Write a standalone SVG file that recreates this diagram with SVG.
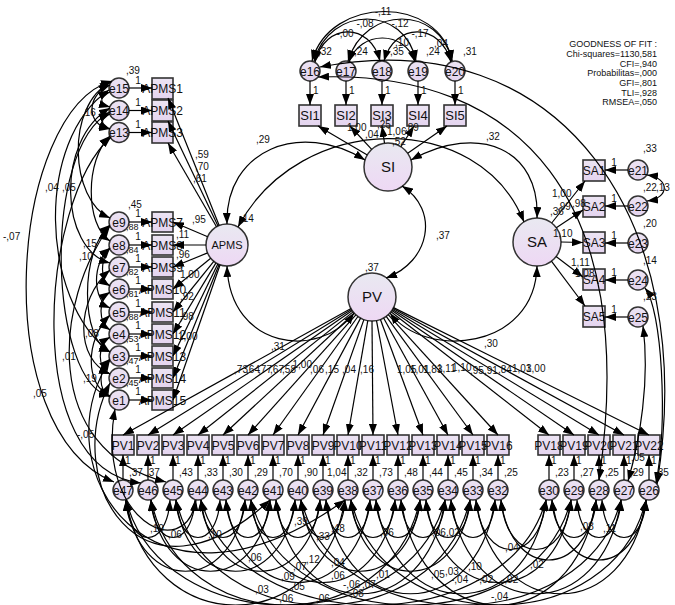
<svg xmlns="http://www.w3.org/2000/svg" width="675" height="605" viewBox="0 0 675 605">
<defs>
<linearGradient id="gl" x1="0" y1="0" x2="0" y2="1"><stop offset="0" stop-color="#e9e9f1"/><stop offset="1" stop-color="#eed8f4"/></linearGradient>
<linearGradient id="gs" x1="0" y1="0" x2="0" y2="1"><stop offset="0" stop-color="#ece4f3"/><stop offset="1" stop-color="#e4d4ef"/></linearGradient>
<marker id="ah" viewBox="0 0 11 8" refX="11" refY="4" markerWidth="11" markerHeight="8" markerUnits="userSpaceOnUse" orient="auto-start-reverse"><path d="M0,0 L11,4 L0,8 z" fill="#000"/></marker>
<style>
.lat{fill:url(#gl);stroke:#333;stroke-width:1.5}
.obs{fill:url(#gs);stroke:#333;stroke-width:1.6}
.err{fill:url(#gs);stroke:#333;stroke-width:1.5}
.p{fill:none;stroke:#000;stroke-width:1.2;marker-end:url(#ah)}
.cv{fill:none;stroke:#000;stroke-width:1.2;marker-start:url(#ah);marker-end:url(#ah)}
text{font-family:"Liberation Sans",Arial,sans-serif;fill:#111}
.lt{font-size:15px;text-anchor:middle}
.bt{font-size:12px;text-anchor:middle}
.st{font-size:13px;text-anchor:middle}
.et{font-size:12px;text-anchor:middle}
.l{font-size:10px}
.m{text-anchor:middle}
.e{text-anchor:end}
.s9{font-size:9px}
.gof{font-size:9px;text-anchor:end}
</style>
</defs>

<!-- latent nodes -->
<g id="SI"><circle class="lat" cx="388" cy="167" r="24"/><text class="lt" x="388" y="172">SI</text></g>
<g id="APMS"><circle class="lat" cx="227" cy="245" r="21"/><text x="227" y="249" style="font-size:11px;text-anchor:middle">APMS</text></g>
<g id="SA"><circle class="lat" cx="537" cy="242" r="24"/><text class="lt" x="537" y="247">SA</text></g>
<g id="PV"><circle class="lat" cx="372" cy="297" r="24"/><text class="lt" x="372" y="302">PV</text></g>

<!-- SI indicators -->
<g id="SI1"><rect class="obs" x="299" y="105" width="22" height="21"/><text class="st" x="310" y="120">SI1</text></g>
<g id="SI2"><rect class="obs" x="335" y="105" width="22" height="21"/><text class="st" x="346" y="120">SI2</text></g>
<g id="SI3"><rect class="obs" x="371" y="105" width="22" height="21"/><text class="st" x="382" y="120">SI3</text></g>
<g id="SI4"><rect class="obs" x="407" y="105" width="22" height="21"/><text class="st" x="418" y="120">SI4</text></g>
<g id="SI5"><rect class="obs" x="444" y="105" width="22" height="21"/><text class="st" x="455" y="120">SI5</text></g>
<g id="e16"><circle class="err" cx="310" cy="71" r="10"/><text class="et" x="310" y="75.5">e16</text></g>
<g id="e17"><circle class="err" cx="346" cy="71" r="10"/><text class="et" x="346" y="75.5">e17</text></g>
<g id="e18"><circle class="err" cx="382" cy="71" r="10"/><text class="et" x="382" y="75.5">e18</text></g>
<g id="e19"><circle class="err" cx="418" cy="71" r="10"/><text class="et" x="418" y="75.5">e19</text></g>
<g id="e20"><circle class="err" cx="455" cy="71" r="10"/><text class="et" x="455" y="75.5">e20</text></g>

<!-- APMS indicators -->
<g id="APMS1"><rect class="obs" x="152" y="78" width="21" height="21"/><text class="bt" x="162.5" y="93">APMS1</text></g>
<g id="APMS2"><rect class="obs" x="152" y="100" width="21" height="21"/><text class="bt" x="162.5" y="115">APMS2</text></g>
<g id="APMS3"><rect class="obs" x="152" y="122" width="21" height="21"/><text class="bt" x="162.5" y="137">APMS3</text></g>
<g id="APMS7"><rect class="obs" x="152" y="212" width="21" height="20"/><text class="bt" x="162.5" y="226.5">APMS7</text></g>
<g id="APMS8"><rect class="obs" x="152" y="235" width="21" height="20"/><text class="bt" x="162.5" y="249.5">APMS8</text></g>
<g id="APMS9"><rect class="obs" x="152" y="257" width="21" height="20"/><text class="bt" x="162.5" y="271.5">APMS9</text></g>
<g id="APMS10"><rect class="obs" x="152" y="279" width="21" height="20"/><text class="bt" x="162.5" y="293.5">APMS10</text></g>
<g id="APMS11"><rect class="obs" x="152" y="302" width="21" height="20"/><text class="bt" x="162.5" y="316.5">APMS11</text></g>
<g id="APMS12"><rect class="obs" x="152" y="324" width="21" height="20"/><text class="bt" x="162.5" y="338.5">APMS12</text></g>
<g id="APMS13"><rect class="obs" x="152" y="346" width="21" height="20"/><text class="bt" x="162.5" y="360.5">APMS13</text></g>
<g id="APMS14"><rect class="obs" x="152" y="368" width="21" height="20"/><text class="bt" x="162.5" y="382.5">APMS14</text></g>
<g id="APMS15"><rect class="obs" x="152" y="390" width="21" height="20"/><text class="bt" x="162.5" y="404.5">APMS15</text></g>
<g id="e15"><circle class="err" cx="119" cy="88" r="10"/><text class="et" x="119" y="92.5">e15</text></g>
<g id="e14"><circle class="err" cx="119" cy="110.5" r="10"/><text class="et" x="119" y="115">e14</text></g>
<g id="e13"><circle class="err" cx="119" cy="132.5" r="10"/><text class="et" x="119" y="137">e13</text></g>
<g id="e9"><circle class="err" cx="119" cy="222" r="10"/><text class="et" x="119" y="226.5">e9</text></g>
<g id="e8"><circle class="err" cx="119" cy="245" r="10"/><text class="et" x="119" y="249.5">e8</text></g>
<g id="e7"><circle class="err" cx="119" cy="267" r="10"/><text class="et" x="119" y="271.5">e7</text></g>
<g id="e6"><circle class="err" cx="119" cy="289" r="10"/><text class="et" x="119" y="293.5">e6</text></g>
<g id="e5"><circle class="err" cx="119" cy="312" r="10"/><text class="et" x="119" y="316.5">e5</text></g>
<g id="e4"><circle class="err" cx="119" cy="334" r="10"/><text class="et" x="119" y="338.5">e4</text></g>
<g id="e3"><circle class="err" cx="119" cy="356" r="10"/><text class="et" x="119" y="360.5">e3</text></g>
<g id="e2"><circle class="err" cx="119" cy="378" r="10"/><text class="et" x="119" y="382.5">e2</text></g>
<g id="e1"><circle class="err" cx="119" cy="400" r="10"/><text class="et" x="119" y="404.5">e1</text></g>

<!-- SA indicators -->
<g id="SA1"><rect class="obs" x="583" y="160" width="22" height="21"/><text class="bt" x="594" y="175">SA1</text></g>
<g id="SA2"><rect class="obs" x="583" y="196" width="22" height="21"/><text class="bt" x="594" y="211">SA2</text></g>
<g id="SA3"><rect class="obs" x="583" y="232" width="22" height="21"/><text class="bt" x="594" y="247">SA3</text></g>
<g id="SA4"><rect class="obs" x="583" y="269" width="22" height="21"/><text class="bt" x="594" y="284">SA4</text></g>
<g id="SA5"><rect class="obs" x="583" y="306" width="22" height="21"/><text class="bt" x="594" y="321">SA5</text></g>
<g id="e21"><circle class="err" cx="638" cy="170" r="10"/><text class="et" x="638" y="174.5">e21</text></g>
<g id="e22"><circle class="err" cx="638" cy="206" r="10"/><text class="et" x="638" y="210.5">e22</text></g>
<g id="e23"><circle class="err" cx="638" cy="243" r="10"/><text class="et" x="638" y="247.5">e23</text></g>
<g id="e24"><circle class="err" cx="638" cy="280" r="10"/><text class="et" x="638" y="284.5">e24</text></g>
<g id="e25"><circle class="err" cx="638" cy="317" r="10"/><text class="et" x="638" y="321.5">e25</text></g>

<!-- PV indicators -->
<g id="PV1"><rect class="obs" x="112" y="435" width="22" height="20"/><text class="bt" x="123" y="449.5">PV1</text></g>
<g id="PV2"><rect class="obs" x="137" y="435" width="22" height="20"/><text class="bt" x="148" y="449.5">PV2</text></g>
<g id="PV3"><rect class="obs" x="162" y="435" width="22" height="20"/><text class="bt" x="173" y="449.5">PV3</text></g>
<g id="PV4"><rect class="obs" x="187" y="435" width="22" height="20"/><text class="bt" x="198" y="449.5">PV4</text></g>
<g id="PV5"><rect class="obs" x="212" y="435" width="22" height="20"/><text class="bt" x="223" y="449.5">PV5</text></g>
<g id="PV6"><rect class="obs" x="237" y="435" width="22" height="20"/><text class="bt" x="248" y="449.5">PV6</text></g>
<g id="PV7"><rect class="obs" x="262" y="435" width="22" height="20"/><text class="bt" x="273" y="449.5">PV7</text></g>
<g id="PV8"><rect class="obs" x="287" y="435" width="22" height="20"/><text class="bt" x="298" y="449.5">PV8</text></g>
<g id="PV9"><rect class="obs" x="312" y="435" width="22" height="20"/><text class="bt" x="323" y="449.5">PV9</text></g>
<g id="PV10"><rect class="obs" x="337" y="435" width="22" height="20"/><text class="bt" x="348" y="449.5">PV10</text></g>
<g id="PV11"><rect class="obs" x="362" y="435" width="22" height="20"/><text class="bt" x="373" y="449.5">PV11</text></g>
<g id="PV12"><rect class="obs" x="387" y="435" width="22" height="20"/><text class="bt" x="398" y="449.5">PV12</text></g>
<g id="PV13"><rect class="obs" x="412" y="435" width="22" height="20"/><text class="bt" x="423" y="449.5">PV13</text></g>
<g id="PV14"><rect class="obs" x="437" y="435" width="22" height="20"/><text class="bt" x="448" y="449.5">PV14</text></g>
<g id="PV15"><rect class="obs" x="462" y="435" width="22" height="20"/><text class="bt" x="473" y="449.5">PV15</text></g>
<g id="PV16"><rect class="obs" x="487" y="435" width="22" height="20"/><text class="bt" x="498" y="449.5">PV16</text></g>
<g id="PV18"><rect class="obs" x="538" y="435" width="22" height="20"/><text class="bt" x="549" y="449.5">PV18</text></g>
<g id="PV19"><rect class="obs" x="563" y="435" width="22" height="20"/><text class="bt" x="574" y="449.5">PV19</text></g>
<g id="PV20"><rect class="obs" x="588" y="435" width="22" height="20"/><text class="bt" x="599" y="449.5">PV20</text></g>
<g id="PV21"><rect class="obs" x="613" y="435" width="22" height="20"/><text class="bt" x="624" y="449.5">PV21</text></g>
<g id="PV22"><rect class="obs" x="638" y="435" width="22" height="20"/><text class="bt" x="649" y="449.5">PV22</text></g>
<g id="e47"><circle class="err" cx="123" cy="490" r="10"/><text class="et" x="123" y="494.5">e47</text></g>
<g id="e46"><circle class="err" cx="148" cy="490" r="10"/><text class="et" x="148" y="494.5">e46</text></g>
<g id="e45"><circle class="err" cx="173" cy="490" r="10"/><text class="et" x="173" y="494.5">e45</text></g>
<g id="e44"><circle class="err" cx="198" cy="490" r="10"/><text class="et" x="198" y="494.5">e44</text></g>
<g id="e43"><circle class="err" cx="223" cy="490" r="10"/><text class="et" x="223" y="494.5">e43</text></g>
<g id="e42"><circle class="err" cx="248" cy="490" r="10"/><text class="et" x="248" y="494.5">e42</text></g>
<g id="e41"><circle class="err" cx="273" cy="490" r="10"/><text class="et" x="273" y="494.5">e41</text></g>
<g id="e40"><circle class="err" cx="298" cy="490" r="10"/><text class="et" x="298" y="494.5">e40</text></g>
<g id="e39"><circle class="err" cx="323" cy="490" r="10"/><text class="et" x="323" y="494.5">e39</text></g>
<g id="e38"><circle class="err" cx="348" cy="490" r="10"/><text class="et" x="348" y="494.5">e38</text></g>
<g id="e37"><circle class="err" cx="373" cy="490" r="10"/><text class="et" x="373" y="494.5">e37</text></g>
<g id="e36"><circle class="err" cx="398" cy="490" r="10"/><text class="et" x="398" y="494.5">e36</text></g>
<g id="e35"><circle class="err" cx="423" cy="490" r="10"/><text class="et" x="423" y="494.5">e35</text></g>
<g id="e34"><circle class="err" cx="448" cy="490" r="10"/><text class="et" x="448" y="494.5">e34</text></g>
<g id="e33"><circle class="err" cx="473" cy="490" r="10"/><text class="et" x="473" y="494.5">e33</text></g>
<g id="e32"><circle class="err" cx="498" cy="490" r="10"/><text class="et" x="498" y="494.5">e32</text></g>
<g id="e30"><circle class="err" cx="549" cy="490" r="10"/><text class="et" x="549" y="494.5">e30</text></g>
<g id="e29"><circle class="err" cx="574" cy="490" r="10"/><text class="et" x="574" y="494.5">e29</text></g>
<g id="e28"><circle class="err" cx="599" cy="490" r="10"/><text class="et" x="599" y="494.5">e28</text></g>
<g id="e27"><circle class="err" cx="624" cy="490" r="10"/><text class="et" x="624" y="494.5">e27</text></g>
<g id="e26"><circle class="err" cx="649" cy="490" r="10"/><text class="et" x="649" y="494.5">e26</text></g>

<g id="connectors">
<!-- SI measurement -->
<path class="p" d="M310,81 L310,105"/><path class="p" d="M346,81 L346,105"/><path class="p" d="M382,81 L382,105"/><path class="p" d="M418,81 L418,105"/><path class="p" d="M455,81 L455,105"/>
<path class="p" d="M367.3,154.9 L318,126"/><path class="p" d="M371.7,149.4 L350,126"/><path class="p" d="M384.5,143.2 L382,126"/><path class="p" d="M400.9,146.7 L414,126"/><path class="p" d="M407.7,153.3 L447,126"/>
<!-- top covariances -->
<path class="cv" d="M312,61 C330,-5 440,-5 452,61"/>
<path class="cv" d="M314,61 C330,5 405,5 416,61"/>
<path class="cv" d="M348,61 C365,5 440,5 452,61"/>
<path class="cv" d="M315,62 C325,22 370,22 380,61"/>
<path class="cv" d="M384,61 C395,22 440,22 451,62"/>
<path class="cv" d="M349,62 C360,30 405,30 415,62"/>
<path class="cv" d="M320,67 C560,20 700,220 657,484"/>
<path class="cv" d="M318,77 C520,70 640,200 599,480"/>
<!-- structural covariances -->
<path class="cv" d="M227,224 C225,150 300,120 365,160"/>
<path class="cv" d="M238,227 C300,110 480,110 524,222"/>
<path class="cv" d="M411,160 C480,122 540,150 537,218"/>
<path class="cv" d="M227,266 C230,350 320,360 354,313"/>
<path class="cv" d="M537,266 C535,350 425,360 390,313"/>
<path class="cv" d="M402,186 C440,210 430,262 386,278"/>
<!-- APMS measurement -->
<path class="p" d="M219.2,225.5 L168,98"/><path class="p" d="M218,226 L168,121"/><path class="p" d="M216.5,226.8 L168,143"/>
<path class="p" d="M207.7,236.8 L173,222"/><path class="p" d="M206,245 L173,245"/><path class="p" d="M207.6,252.9 L173,267"/><path class="p" d="M210.7,258.3 L173,289"/><path class="p" d="M213.8,261.4 L173,312"/><path class="p" d="M216,262.9 L173,334"/><path class="p" d="M217.8,263.9 L173,356"/><path class="p" d="M219.1,264.5 L173,378"/><path class="p" d="M220.1,264.8 L173,400"/>
<path class="p" d="M129,88 L152,88"/><path class="p" d="M129,110.5 L152,110.5"/><path class="p" d="M129,132.5 L152,132.5"/>
<path class="p" d="M129,222 L152,222"/><path class="p" d="M129,245 L152,245"/><path class="p" d="M129,267 L152,267"/><path class="p" d="M129,289 L152,289"/><path class="p" d="M129,312 L152,312"/><path class="p" d="M129,334 L152,334"/><path class="p" d="M129,356 L152,356"/><path class="p" d="M129,378 L152,378"/><path class="p" d="M129,400 L152,400"/>
<!-- left covariances -->
<path class="cv" d="M110,92 C99,96 99,104 110,107"/>
<path class="cv" d="M110,85 C86,95 86,125 110,129"/>
<path class="cv" d="M110,114 C100,118 100,125 110,129"/>
<path class="cv" d="M111,82 C65,105 70,200 110,218"/>
<path class="cv" d="M110,108 C55,140 60,250 110,263"/>
<path class="cv" d="M110,136 C85,160 85,225 110,241"/>
<path class="cv" d="M112,81 C10,110 -15,430 114,482"/>
<path class="cv" d="M110,112 C40,150 50,385 110,396"/>
<path class="cv" d="M111,137 C40,200 20,470 141,483"/>
<path class="cv" d="M110,225 C80,250 80,340 110,352"/>
<path class="cv" d="M110,248 C92,262 92,300 110,308"/>
<path class="cv" d="M110,270 C75,300 75,360 110,374"/>
<path class="cv" d="M110,292 C98,300 98,322 110,330"/>
<path class="cv" d="M110,315 C85,340 85,385 110,396"/>
<path class="cv" d="M110,337 C97,345 97,368 110,374"/>
<path class="cv" d="M110,359 C98,370 98,390 110,397"/>
<path class="cv" d="M110,226 C55,300 40,450 166,482"/>
<path class="cv" d="M109,90 C35,140 40,300 110,352"/>
<path class="cv" d="M110,248 C100,260 100,280 110,286"/>
<path class="cv" d="M115,409 C95,520 185,565 196,500"/>
<path class="cv" d="M110,383 C60,480 140,620 270,500"/>
<path class="cv" d="M110,360 C40,470 150,640 345,500"/>
<!-- SA measurement -->
<path class="p" d="M551.7,223 L585,181"/><path class="p" d="M556.3,227.7 L583,210"/><path class="p" d="M561,242 L583,242.5"/><path class="p" d="M556.1,256.5 L583,277"/><path class="p" d="M551.4,261.2 L585,306"/>
<path class="p" d="M628,170 L605,170"/><path class="p" d="M628,206 L605,206"/><path class="p" d="M628,243 L605,243"/><path class="p" d="M628,280 L605,280"/><path class="p" d="M628,317 L605,317"/>
<path class="cv" d="M647,175 C670,178 670,198 647,201"/>
<path class="cv" d="M645,288 C662,310 668,420 656,483"/>
<path class="cv" d="M643,326 C650,380 640,440 628,481"/>
<!-- PV measurement -->
<path class="p" d="M351,308.6 L123,435"/><path class="p" d="M351.5,309.5 L148,435"/><path class="p" d="M352.2,310.6 L173,435"/><path class="p" d="M353.1,311.9 L198,435"/><path class="p" d="M354.3,313.2 L223,435"/><path class="p" d="M355.9,314.8 L248,435"/><path class="p" d="M357.9,316.5 L273,435"/><path class="p" d="M360.6,318.1 L298,435"/><path class="p" d="M363.9,319.6 L323,435"/><path class="p" d="M367.8,320.6 L348,435"/><path class="p" d="M372,321 L373,435"/><path class="p" d="M376.5,320.6 L398,435"/><path class="p" d="M380.4,319.5 L423,435"/><path class="p" d="M383.6,318 L448,435"/><path class="p" d="M386.2,316.3 L473,435"/><path class="p" d="M388.2,314.7 L498,435"/><path class="p" d="M391,311.7 L549,435"/><path class="p" d="M391.9,310.5 L574,435"/><path class="p" d="M392.5,309.4 L599,435"/><path class="p" d="M393.1,308.5 L624,435"/><path class="p" d="M393.5,307.6 L649,435"/>
<path class="p" d="M123,480 L123,455"/><path class="p" d="M148,480 L148,455"/><path class="p" d="M173,480 L173,455"/><path class="p" d="M198,480 L198,455"/><path class="p" d="M223,480 L223,455"/><path class="p" d="M248,480 L248,455"/><path class="p" d="M273,480 L273,455"/><path class="p" d="M298,480 L298,455"/><path class="p" d="M323,480 L323,455"/><path class="p" d="M348,480 L348,455"/><path class="p" d="M373,480 L373,455"/><path class="p" d="M398,480 L398,455"/><path class="p" d="M423,480 L423,455"/><path class="p" d="M448,480 L448,455"/><path class="p" d="M473,480 L473,455"/><path class="p" d="M498,480 L498,455"/><path class="p" d="M549,480 L549,455"/><path class="p" d="M574,480 L574,455"/><path class="p" d="M599,480 L599,455"/><path class="p" d="M624,480 L624,455"/><path class="p" d="M649,480 L649,455"/>
<!-- bottom covariances -->
<path class="cv" d="M126,500 C129,550 167,550 170,500"/>
<path class="cv" d="M126,500 C138,595 233,595 245,500"/>
<path class="cv" d="M126,500 C150,640 321,640 345,500"/>
<path class="cv" d="M126,500 C162,640 409,640 445,500"/>
<path class="cv" d="M151,500 C154,550 192,550 195,500"/>
<path class="cv" d="M151,500 C163,595 258,595 270,500"/>
<path class="cv" d="M151,500 C181,640 390,640 420,500"/>
<path class="cv" d="M176,500 C179,550 217,550 220,500"/>
<path class="cv" d="M176,500 C188,595 283,595 295,500"/>
<path class="cv" d="M176,500 C209,640 437,640 470,500"/>
<path class="cv" d="M201,500 C204,550 242,550 245,500"/>
<path class="cv" d="M201,500 C213,595 308,595 320,500"/>
<path class="cv" d="M201,500 C240,640 507,640 546,500"/>
<path class="cv" d="M226,500 C229,550 267,550 270,500"/>
<path class="cv" d="M226,500 C241,610 355,610 370,500"/>
<path class="cv" d="M251,500 C254,550 292,550 295,500"/>
<path class="cv" d="M251,500 C266,610 380,610 395,500"/>
<path class="cv" d="M251,500 C287,640 535,640 571,500"/>
<path class="cv" d="M276,500 C279,550 317,550 320,500"/>
<path class="cv" d="M276,500 C294,625 427,625 445,500"/>
<path class="cv" d="M301,500 C304,550 342,550 345,500"/>
<path class="cv" d="M301,500 C313,595 408,595 420,500"/>
<path class="cv" d="M301,500 C337,640 585,640 621,500"/>
<path class="cv" d="M326,500 C329,550 367,550 370,500"/>
<path class="cv" d="M326,500 C344,625 477,625 495,500"/>
<path class="cv" d="M351,500 C354,550 392,550 395,500"/>
<path class="cv" d="M351,500 C363,595 458,595 470,500"/>
<path class="cv" d="M351,500 C384,640 613,640 646,500"/>
<path class="cv" d="M376,500 C379,550 417,550 420,500"/>
<path class="cv" d="M376,500 C394,625 528,625 546,500"/>
<path class="cv" d="M401,500 C404,550 442,550 445,500"/>
<path class="cv" d="M401,500 C422,640 575,640 596,500"/>
<path class="cv" d="M426,500 C429,550 467,550 470,500"/>
<path class="cv" d="M426,500 C441,610 556,610 571,500"/>
<path class="cv" d="M451,500 C454,550 492,550 495,500"/>
<path class="cv" d="M451,500 C469,625 603,625 621,500"/>
<path class="cv" d="M476,500 C482,566 540,566 546,500"/>
<path class="cv" d="M476,500 C494,625 628,625 646,500"/>
<path class="cv" d="M501,500 C507,566 565,566 571,500"/>
<path class="cv" d="M501,500 C511,580 586,580 596,500"/>
<path class="cv" d="M552,500 C555,550 593,550 596,500"/>
<path class="cv" d="M552,500 C562,580 636,580 646,500"/>
<path class="cv" d="M577,500 C580,550 618,550 621,500"/>
<path class="cv" d="M602,500 C605,550 643,550 646,500"/>
</g>

<g id="labels" class="l">
<!-- GOF -->
<text class="gof" x="657" y="47">GOODNESS OF FIT :</text>
<text class="gof" x="657" y="57">Chi-squares=1130,581</text>
<text class="gof" x="657" y="66.5">CFI=,940</text>
<text class="gof" x="657" y="76">Probabilitas=,000</text>
<text class="gof" x="657" y="86">GFI=,801</text>
<text class="gof" x="657" y="95.5">TLI=,928</text>
<text class="gof" x="657" y="105">RMSEA=,050</text>
<!-- top -->
<text class="m" x="383" y="15">-,11</text>
<text class="m" x="365" y="27">-,08</text>
<text class="m" x="400" y="27">-,12</text>
<text class="m" x="345" y="37">-,00</text>
<text class="m" x="420" y="37">-,17</text>
<text class="m" x="402" y="46">,10</text>
<text class="m" x="441" y="47">,04</text>
<text x="318" y="55">,32</text><text x="354" y="55">,24</text><text x="390" y="55">,35</text><text x="426" y="55">,24</text><text x="463" y="55">,31</text>
<text x="313" y="94">1</text><text x="349" y="94">1</text><text x="385" y="94">1</text><text x="421" y="94">1</text><text x="458" y="94">1</text>
<text x="347" y="131">1,00</text><text x="365" y="138">,04</text><text x="377" y="128">,25</text><text x="387" y="135">1,06</text><text x="405" y="131">,89</text><text x="392" y="145">,52</text>
<text x="256" y="143">,29</text><text x="486" y="140">,32</text><text x="240" y="222">,14</text>
<text x="436" y="239">,37</text><text x="365" y="271">,37</text>
<text x="271" y="350">,31</text><text x="484" y="347">,30</text>
<!-- APMS -->
<text x="195" y="158">,59</text><text x="195" y="170">,70</text><text x="193" y="182">,61</text>
<text x="192" y="223">,95</text><text x="176" y="238">,11</text><text x="176" y="258">,96</text><text x="180" y="278">1,00</text><text x="180" y="300">,92</text><text x="180" y="320">,98</text><text x="178" y="340">1,00</text>
<text x="126" y="74">,39</text><text x="128" y="208">,45</text>
<text class="m" x="138" y="84">1</text><text class="m" x="138" y="106">1</text><text class="m" x="138" y="128">1</text>
<text class="m" x="138" y="217">1</text><text class="m" x="138" y="240">1</text><text class="m" x="138" y="262">1</text><text class="m" x="138" y="284">1</text><text class="m" x="138" y="307">1</text><text class="m" x="138" y="329">1</text><text class="m" x="138" y="351">1</text><text class="m" x="138" y="373">1</text><text class="m" x="138" y="395">1</text>
<text class="s9" x="126" y="230">,88</text><text class="s9" x="126" y="253">,84</text><text class="s9" x="126" y="275">,82</text><text class="s9" x="126" y="297">,81</text><text class="s9" x="126" y="320">,88</text><text class="s9" x="126" y="342">,53</text><text class="s9" x="126" y="364">,47</text><text class="s9" x="126" y="386">,45</text>
<text x="82" y="116">,16</text><text x="45" y="191">,04</text><text x="62" y="191">,05</text><text x="3" y="240">-,07</text>
<text x="83" y="247">,15</text><text x="79" y="260">,10</text><text x="85" y="337">,08</text><text x="62" y="360">,01</text><text x="83" y="382">,19</text><text x="33" y="397">,05</text><text x="77" y="438">-,05</text>
<!-- SA -->
<text x="552" y="197">1,00</text><text x="550" y="215">,36</text><text x="557" y="210">,99</text><text x="572" y="207">,98</text><text x="553" y="237">1,10</text><text x="571" y="266">1,11</text><text x="575" y="277">1,08</text>
<text class="m" x="614" y="166">1</text><text class="m" x="614" y="202">1</text><text class="m" x="614" y="239">1</text><text class="m" x="614" y="276">1</text><text class="m" x="614" y="313">1</text>
<text x="643" y="152">,33</text><text x="643" y="191">,22</text><text x="656" y="191">,13</text><text x="643" y="227">,20</text><text x="643" y="264">,14</text><text x="643" y="300">,23</text>
<!-- PV loadings -->
<text class="e" x="248" y="373">,73</text><text class="e" x="260" y="373">,64</text><text class="e" x="272" y="373">,77</text><text class="e" x="284" y="373">,67</text><text class="e" x="296" y="373">,58</text><text class="e" x="312" y="368">1,00</text><text class="e" x="324" y="373">,06</text><text class="e" x="339" y="373">,15</text><text class="e" x="356" y="373">,04</text><text class="e" x="374" y="373">,16</text>
<text x="397" y="373">1,05</text><text x="410" y="373">1,01</text><text x="423" y="373">1,83</text><text x="437" y="372">1,11</text><text x="452" y="371">1,10</text><text x="470" y="374">,95</text><text x="484" y="374">,91</text><text x="498" y="373">,84</text><text x="512" y="372">1,03</text><text x="526" y="372">1,00</text>
<!-- bottom "1" and variances -->
<text x="125" y="464">1</text><text x="150" y="464">1</text><text x="175" y="464">1</text><text x="200" y="464">1</text><text x="225" y="464">1</text><text x="250" y="464">1</text><text x="275" y="464">1</text><text x="300" y="464">1</text><text x="325" y="464">1</text><text x="350" y="464">1</text><text x="375" y="464">1</text><text x="400" y="464">1</text><text x="425" y="464">1</text><text x="450" y="464">1</text><text x="475" y="464">1</text><text x="500" y="464">1</text><text x="551" y="464">1</text><text x="576" y="464">1</text><text x="601" y="464">1</text><text x="626" y="464">1</text><text x="651" y="464">1</text>
<text x="129" y="476">,37</text><text x="146" y="476">,37</text><text x="179" y="476">,43</text><text x="204" y="476">,33</text><text x="229" y="476">,30</text><text x="254" y="476">,29</text><text x="279" y="476">,70</text><text x="304" y="476">,90</text><text x="327" y="476">1,04</text><text x="354" y="476">,32</text><text x="379" y="476">,73</text><text x="404" y="476">,48</text><text x="429" y="476">,44</text><text x="454" y="476">,45</text><text x="479" y="476">,34</text><text x="504" y="476">,25</text><text x="555" y="476">,23</text><text x="580" y="476">,27</text><text x="605" y="476">,25</text><text x="630" y="476">,29</text><text x="655" y="476">,35</text>
<text x="631" y="461">,05</text>
<!-- bottom covariance labels -->
<text x="150" y="532">,10</text><text x="168" y="538">,06</text><text x="208" y="538">,10</text><text x="248" y="561">,06</text><text x="281" y="580">,09</text><text x="255" y="593">,03</text><text x="291" y="590">,05</text><text x="276" y="602">-,06</text><text x="316" y="602">,06</text>
<text x="316" y="540">,33</text><text x="331" y="532">,48</text><text x="294" y="525">,39</text><text x="331" y="566">,04</text><text x="331" y="579">,06</text><text x="343" y="588">-,06</text><text x="362" y="588">,07</text><text x="350" y="597">,08</text><text x="380" y="536">,06</text><text x="376" y="578">,01</text><text x="306" y="563">,12</text><text x="293" y="570">,07</text>
<text x="432" y="536">,06</text><text x="446" y="536">,02</text><text x="505" y="551">,04</text><text x="468" y="570">,10</text><text x="530" y="568">,02</text><text x="431" y="578">,05</text><text x="445" y="575">,03</text><text x="451" y="583">-,04</text><text x="476" y="583">-,02</text><text x="501" y="583">-,02</text><text x="491" y="600">-,04</text><text x="580" y="530">,08</text><text x="603" y="532">,11</text>
</g>
</svg>
